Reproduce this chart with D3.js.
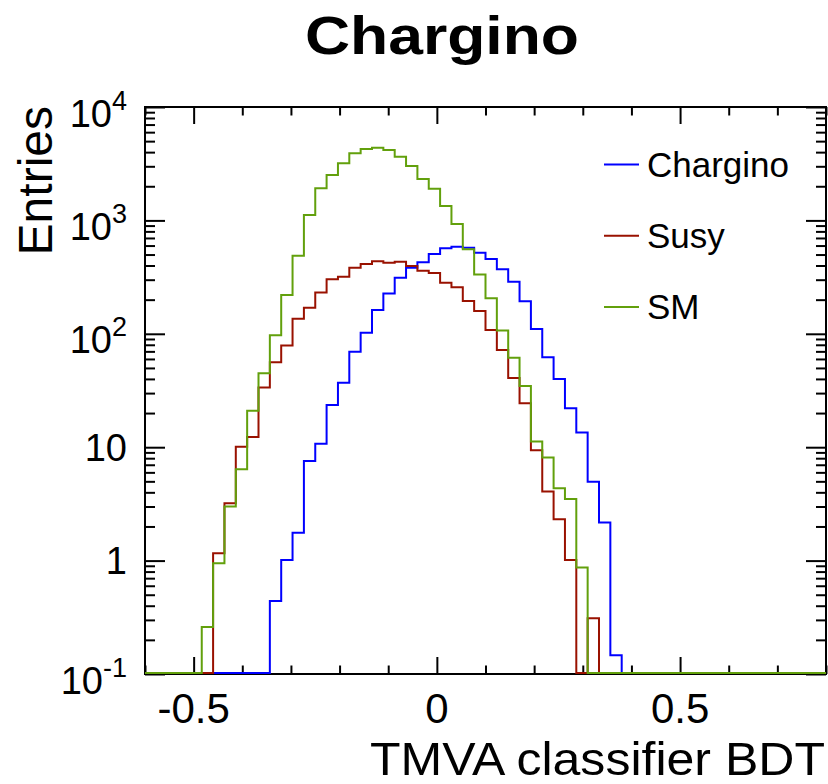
<!DOCTYPE html>
<html>
<head>
<meta charset="utf-8">
<script src="https://cdn.jsdelivr.net/npm/d3@7"></script>
<style>
    body { margin: 0; background: #fff; }
    text { font-family: "Liberation Sans", Arial, Helvetica, sans-serif; fill: #000; }
</style>
</head>
<body>
<div id="chart"></div>
<script>
// histogram binning (60 bins from -0.6 to 0.8)
const binRange = [-0.6, 0.8]
const nBins = 60

// bin contents, 0 = empty bin
const chargino = [0, 0, 0, 0, 0, 0, 0, 0, 0, 0,
    0, 0.44, 1.01, 1.76, 7.55, 10.7, 23.5, 37, 69.5, 102,
    162, 227, 312, 383, 427, 506, 567, 587, 574, 519,
    457, 371, 288, 194, 110, 62, 40, 22, 13.5, 4.97,
    2.17, 0.146, 0, 0, 0, 0, 0, 0, 0, 0,
    0, 0, 0, 0, 0, 0, 0, 0, 0, 0]
const susy = [0, 0, 0, 0, 0, 0, 1.16, 3.2, 10.1, 12.3,
    33.6, 56, 79, 136, 170, 231, 302, 319, 383, 413,
    436, 424, 432, 396, 360, 344, 282, 257, 195, 159,
    108, 72, 40.8, 24.4, 9.4, 4.06, 2.31, 1.01, 0, 0.31,
    0, 0, 0, 0, 0, 0, 0, 0, 0, 0,
    0, 0, 0, 0, 0, 0, 0, 0, 0, 0]
const sm = [0, 0, 0, 0, 0, 0.26, 0.95, 3.0, 6.4, 21,
    45, 97, 220, 489, 1115, 1920, 2515, 3190, 3900, 4260,
    4370, 4180, 3650, 3020, 2317, 1905, 1340, 929, 556, 334,
    206, 107, 61.5, 34.6, 11.2, 8.1, 4.35, 3.49, 0.87, 0,
    0, 0, 0, 0, 0, 0, 0, 0, 0, 0,
    0, 0, 0, 0, 0, 0, 0, 0, 0, 0]

const seriesNames = ["Chargino", "Susy", "SM"]
const seriesColors = ["#0000ff", "#991100", "#62a00c"]

const xTickValues = [-0.5, 0, 0.5]
const xTickLabels = ["-0.5", "0", "0.5"]
const yTickValues = [0.1, 1, 10, 100, 1000, 10000]
const yTickLabels = ["10^-1", "1", "10", "10^2", "10^3", "10^4"]

const titleText = "Chargino"
const xTitle = "TMVA classifier BDT"
const yTitle = "Entries"

//container with dimensions
let width = 828,
    height = 784,
    frame = { left: 145, right: 826, top: 107, bottom: 674 }

let svg = d3.select("#chart")
    .append("svg")
    .attr("width", width)
    .attr("height", height)

svg.append("rect")
    .attr("width", width)
    .attr("height", height)
    .attr("fill", "#fff")

//scales
let x = d3.scaleLinear()
    .domain(binRange)
    .range([frame.left, frame.right])

let y = d3.scaleLog()
    .domain([yTickValues[0], yTickValues[yTickValues.length - 1]])
    .range([frame.bottom, frame.top])

// tick positions
let xMinor = d3.range(-6, 9).map(i => i / 10).filter(v => !xTickValues.some(t => Math.abs(t - v) < 1e-9))
let yMinor = []
yTickValues.slice(0, -1).forEach(d => {
    for (let m = 2; m <= 9; m++) yMinor.push(d * m)
})

function tickAxis(axis, tr) {
    let g = svg.append("g").attr("transform", tr).call(axis)
    g.select(".domain").remove()
    g.selectAll("line").attr("stroke", "#000").attr("stroke-width", 2)
    return g
}

// bottom / top ticks (pointing inwards)
tickAxis(d3.axisBottom(x).tickValues(xTickValues).tickSize(-17).tickFormat(""), `translate(0,${frame.bottom})`)
tickAxis(d3.axisBottom(x).tickValues(xMinor).tickSize(-8.5).tickFormat(""), `translate(0,${frame.bottom})`)
tickAxis(d3.axisTop(x).tickValues(xTickValues).tickSize(-17).tickFormat(""), `translate(0,${frame.top})`)
tickAxis(d3.axisTop(x).tickValues(xMinor).tickSize(-8.5).tickFormat(""), `translate(0,${frame.top})`)

// left / right ticks
tickAxis(d3.axisLeft(y).tickValues(yTickValues).tickSize(-20).tickFormat(""), `translate(${frame.left},0)`)
tickAxis(d3.axisLeft(y).tickValues(yMinor).tickSize(-10).tickFormat(""), `translate(${frame.left},0)`)
tickAxis(d3.axisRight(y).tickValues(yTickValues).tickSize(-20).tickFormat(""), `translate(${frame.right},0)`)
tickAxis(d3.axisRight(y).tickValues(yMinor).tickSize(-10).tickFormat(""), `translate(${frame.right},0)`)

//frame
svg.append("rect")
    .attr("x", frame.left)
    .attr("y", frame.top)
    .attr("width", frame.right - frame.left)
    .attr("height", frame.bottom - frame.top)
    .attr("fill", "none")
    .attr("stroke", "#000")
    .attr("stroke-width", 2)

//x tick labels
svg.append("g").selectAll("text")
    .data(xTickValues)
    .enter().append("text")
    .attr("x", d => x(d))
    .attr("y", frame.bottom + 49)
    .attr("text-anchor", "middle")
    .style("font-size", "42px")
    .text((d, i) => xTickLabels[i])

//y tick labels, "^" marks a superscript
let yLab = svg.append("g").selectAll("text")
    .data(yTickValues)
    .enter().append("text")
    .attr("x", frame.left - 18)
    .attr("y", (d, i) => y(d) + (yTickLabels[i].includes("^") ? 19.5 : 13.5))
    .attr("text-anchor", "end")
    .style("font-size", "38px")
yLab.each(function (d, i) {
    let parts = yTickLabels[i].split("^")
    let t = d3.select(this)
    t.append("tspan").text(parts[0])
    if (parts[1]) {
        t.append("tspan")
            .attr("dy", -17)
            .style("font-size", "27px")
            .text(parts[1])
    }
})

//histograms as step outlines
let bw = (binRange[1] - binRange[0]) / nBins
function histPoints(values) {
    let pts = []
    values.forEach((v, i) => {
        let yy = v > 0 ? y(v) : frame.bottom - 1
        pts.push([x(binRange[0] + i * bw), yy])
        pts.push([x(binRange[0] + (i + 1) * bw), yy])
    })
    return pts
}
let line = d3.line()

;[chargino, susy, sm].forEach((vals, k) => {
    svg.append("path")
        .attr("d", line(histPoints(vals)))
        .attr("fill", "none")
        .attr("stroke", seriesColors[k])
        .attr("stroke-width", 2)
})

//legend
let legend = svg.append("g").selectAll("g")
    .data(seriesNames)
    .enter().append("g")
    .attr("transform", (d, i) => `translate(604,${164.5 + i * 71.2})`)
legend.append("line")
    .attr("x1", 0)
    .attr("x2", 35)
    .attr("stroke", (d, i) => seriesColors[i])
    .attr("stroke-width", 2)
legend.append("text")
    .attr("x", 43)
    .attr("y", 12)
    .style("font-size", "35px")
    .text(d => d)

//titles
svg.append("text")
    .attr("x", 305)
    .attr("y", 54)
    .attr("textLength", 274)
    .attr("lengthAdjust", "spacingAndGlyphs")
    .style("font-size", "54px")
    .style("font-weight", "bold")
    .text(titleText)

svg.append("text")
    .attr("x", frame.right - 1)
    .attr("y", 775)
    .attr("text-anchor", "end")
    .attr("textLength", 455)
    .attr("lengthAdjust", "spacingAndGlyphs")
    .style("font-size", "47px")
    .text(xTitle)

svg.append("text")
    .attr("transform", "translate(52,106) rotate(-90)")
    .attr("text-anchor", "end")
    .style("font-size", "48px")
    .text(yTitle)
</script>
</body>
</html>
